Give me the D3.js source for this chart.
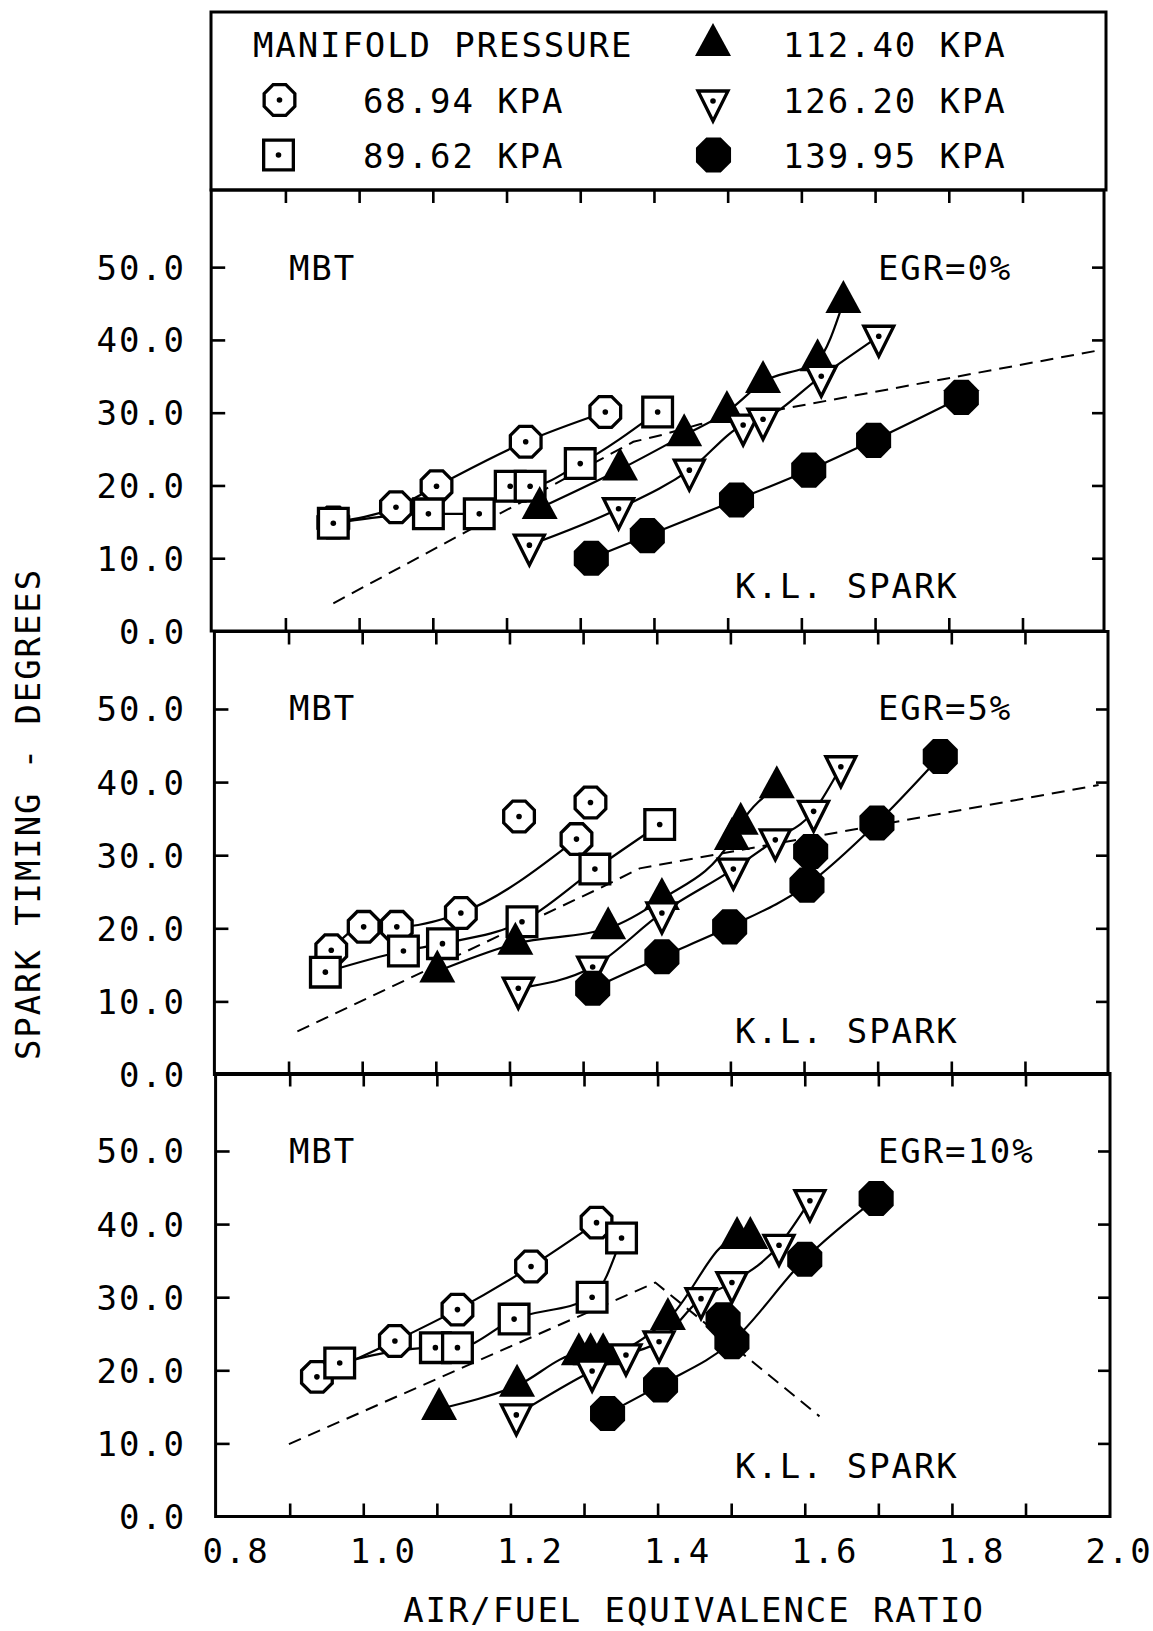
<!DOCTYPE html>
<html>
<head>
<meta charset="utf-8">
<script src="https://cdn.jsdelivr.net/npm/d3@7"></script>
<style>
  html, body { margin: 0; padding: 0; background: #fff; }
  svg { display: block; }
  text { font-family: "DejaVu Sans Mono", monospace; font-size: 34px; letter-spacing: 1.9px; fill: #000; }
</style>
</head>
<body>
<svg id="chart"></svg>
<script>
(() => {

  // ---- data ----
  const pressures = ['68.94 KPA', '89.62 KPA', '112.40 KPA', '126.20 KPA', '139.95 KPA'];
  const egrLabels = ['EGR=0%', 'EGR=5%', 'EGR=10%'];
  const xTickValues = [0.9, 1.0, 1.1, 1.2, 1.3, 1.4, 1.5, 1.6, 1.7, 1.8, 1.9];
  const xLabelValues = [0.8, 1.0, 1.2, 1.4, 1.6, 1.8, 2.0];
  const yTickValues = [10, 20, 30, 40, 50];
  const yLabelValues = [0, 10, 20, 30, 40, 50];

  // [phi, degrees, onCurve(0 = isolated point)]
  const egr0_p68  = [[0.965,14.9],[1.050,17.0],[1.105,19.9],[1.226,26.0],[1.334,30.1]];
  const egr0_p90  = [[0.965,14.8],[1.094,16.1],[1.163,16.1],[1.205,19.9],[1.232,19.9],[1.300,23.0],[1.405,30.1]];
  const egr0_p112 = [[1.245,16.9],[1.354,22.2],[1.441,26.9],[1.499,30.1],[1.548,34.2],[1.622,37.2],[1.657,45.2]];
  const egr0_p126 = [[1.231,11.8],[1.352,16.8],[1.448,22.1],[1.521,28.3],[1.548,29.1],[1.627,35.0],[1.705,40.5]];
  const egr0_p140 = [[1.315,10.0],[1.391,13.1],[1.512,18.0],[1.610,22.1],[1.698,26.2],[1.817,32.1]];
  const egr0_kl   = [[0.965,3.8],[1.372,26.0],[1.413,27.0],[1.462,28.4],[2.0,38.5]];

  const egr5_p68  = [[0.958,17.0],[1.002,20.2],[1.047,20.2],[1.134,22.1],[1.291,32.2],[1.213,35.3,0],[1.310,37.2,0]];
  const egr5_p90  = [[0.950,14.0],[1.056,16.9],[1.109,17.9],[1.217,20.9],[1.316,28.1],[1.404,34.2]];
  const egr5_p112 = [[1.102,14.1],[1.208,17.9],[1.334,20.0],[1.407,24.0],[1.502,32.2],[1.514,34.3],[1.563,39.3]];
  const egr5_p126 = [[1.212,11.8],[1.313,14.7],[1.407,22.1],[1.504,28.1],[1.561,32.1],[1.613,36.0],[1.650,42.1]];
  const egr5_p140 = [[1.313,11.8],[1.407,16.1],[1.499,20.2],[1.604,25.9],[1.609,30.5,0],[1.699,34.4],[1.785,43.5]];
  const egr5_kl   = [[0.912,5.9],[1.327,25.7],[1.377,28.2],[1.459,29.7],[2.0,39.6]];

  const egr10_p68  = [[0.937,19.1],[1.043,24.0],[1.128,28.3],[1.228,34.2],[1.317,40.2]];
  const egr10_p90  = [[0.968,21.0],[1.098,23.1],[1.128,23.1],[1.205,27.0],[1.311,30.0],[1.351,38.1]];
  const egr10_p112 = [[1.103,14.7],[1.209,17.9],[1.293,22.2],[1.309,22.2],[1.326,22.2],[1.414,27.0],[1.508,38.1],[1.526,38.1]];
  const egr10_p126 = [[1.208,13.9],[1.311,19.9],[1.357,22.1],[1.402,23.9],[1.459,29.8],[1.501,32.0],[1.565,37.1],[1.607,43.2]];
  const egr10_p140 = [[1.332,14.1],[1.404,18.0],[1.489,26.9,0],[1.501,23.9],[1.600,35.2],[1.697,43.5]];
  const egr10_kl   = [[0.899,9.9],[1.397,32.0],[1.620,13.7]];

  const panelSeries = [
    [egr0_p68, egr0_p90, egr0_p112, egr0_p126, egr0_p140],
    [egr5_p68, egr5_p90, egr5_p112, egr5_p126, egr5_p140],
    [egr10_p68, egr10_p90, egr10_p112, egr10_p126, egr10_p140]
  ];
  const panelKL = [egr0_kl, egr5_kl, egr10_kl];

  // ---- layout ----
  const svgWidth = 1153;
  const svgHeight = 1631;
  const panels = [
    { top: 190,    zero: 631,    x0: 211.7, x1: 1096.2, right: 1104, textY: 280,  klY: 598 },
    { top: 631.5,  zero: 1074.5, x0: 214.9, x1: 1098.6, right: 1108, textY: 720,  klY: 1043 },
    { top: 1073.5, zero: 1516.5, x0: 216.1, x1: 1099.1, right: 1110, textY: 1163, klY: 1478 }
  ];

  function octagon(R) {
    const pts = d3.range(8).map(k => {
      const a = (22.5 + 45 * k) * Math.PI / 180;
      return [(R * Math.cos(a)).toFixed(2), (R * Math.sin(a)).toFixed(2)];
    });
    return 'M' + pts.join('L') + 'Z';
  }
  function square(s) {
    const h = s / 2;
    return `M${-h},${-h}L${h},${-h}L${h},${h}L${-h},${h}Z`;
  }

  const markers = [
    { d: octagon(16.6), fill: '#fff', stroke: '#000', dot: true },
    { d: square(29.7), fill: '#fff', stroke: '#000', dot: true },
    { d: 'M0,-22L18,11L-18,11Z', fill: '#000', stroke: 'none', dot: false },
    { d: 'M-15,-10L15,-10L0,20Z', fill: '#fff', stroke: '#000', dot: true },
    { d: octagon(19), fill: '#000', stroke: 'none', dot: false }
  ];

  function drawMarker(sel, idx, cx, cy) {
    const m = markers[idx];
    const g = sel.append('g').attr('transform', `translate(${cx},${cy})`);
    g.append('path')
      .attr('d', m.d)
      .attr('fill', m.fill)
      .attr('stroke', m.stroke)
      .attr('stroke-width', 3.3)
      .attr('stroke-linejoin', 'miter');
    if (m.dot) g.append('circle').attr('r', 2.8).attr('fill', '#000');
  }

  const svg = d3.select('#chart')
    .attr('width', svgWidth)
    .attr('height', svgHeight);

  // ---- legend ----
  const legend = svg.append('g');
  legend.append('rect')
    .attr('x', 211).attr('y', 12)
    .attr('width', 895).attr('height', 178)
    .attr('fill', 'none').attr('stroke', '#000').attr('stroke-width', 3);
  legend.append('text').attr('x', 253).attr('y', 57).text('MANIFOLD PRESSURE');
  const legendSlots = [
    { sx: 279.5, sy: 100, tx: 363, ty: 113 },
    { sx: 278.5, sy: 155, tx: 363, ty: 168 },
    { sx: 713,   sy: 45,  tx: 783, ty: 57 },
    { sx: 713,   sy: 101, tx: 783, ty: 113 },
    { sx: 713.5, sy: 155, tx: 783, ty: 168 }
  ];
  pressures.forEach((name, i) => {
    const s = legendSlots[i];
    drawMarker(legend, i, s.sx, s.sy);
    legend.append('text').attr('x', s.tx).attr('y', s.ty).text(name);
  });

  // ---- panels ----
  panels.forEach((p, pi) => {
    const xScale = d3.scaleLinear().domain([0.8, 2.0]).range([p.x0, p.x1]);
    const yScale = d3.scaleLinear().domain([0, 60.6]).range([p.zero, p.top]);
    const left = p.x0 - 0.5;
    const g = svg.append('g');

    g.append('rect')
      .attr('x', left).attr('y', p.top)
      .attr('width', p.right - left).attr('height', p.zero - p.top)
      .attr('fill', 'none').attr('stroke', '#000').attr('stroke-width', 3);

    const tickAxes = [
      { axis: d3.axisRight(yScale).tickValues(yTickValues).tickSize(14), t: `translate(${left},0)` },
      { axis: d3.axisLeft(yScale).tickValues(yTickValues).tickSize(12), t: `translate(${p.right},0)` },
      { axis: d3.axisBottom(xScale).tickValues(xTickValues).tickSize(13), t: `translate(0,${p.top})` },
      { axis: d3.axisTop(xScale).tickValues(xTickValues).tickSize(13), t: `translate(0,${p.zero})` }
    ];
    tickAxes.forEach(a => {
      const ag = g.append('g').attr('transform', a.t).call(a.axis.tickFormat(''));
      ag.select('.domain').remove();
      ag.selectAll('line').attr('stroke', '#000').attr('stroke-width', 2.6);
    });

    // y labels
    g.selectAll('.ylab')
      .data(yLabelValues)
      .enter()
      .append('text')
      .attr('class', 'ylab')
      .attr('text-anchor', 'end')
      .attr('x', 186)
      .attr('y', d => yScale(d) + 12.5)
      .text(d => d.toFixed(1));

    // text labels
    g.append('text').attr('x', 289).attr('y', p.textY).text('MBT');
    g.append('text').attr('x', 878).attr('y', p.textY).text(egrLabels[pi]);
    g.append('text').attr('x', 735).attr('y', p.klY).text('K.L. SPARK');

    // K.L. spark dashed
    const lin = d3.line().x(d => xScale(d[0])).y(d => yScale(d[1]));
    g.append('path')
      .datum(panelKL[pi])
      .attr('fill', 'none')
      .attr('stroke', '#000')
      .attr('stroke-width', 2)
      .attr('stroke-dasharray', '13,8')
      .attr('d', lin);

    // fitted curves
    const curve = d3.line()
      .x(d => xScale(d[0]))
      .y(d => yScale(d[1]))
      .curve(d3.curveMonotoneX);
    panelSeries[pi].forEach(series => {
      const pts = series.filter(d => d[2] !== 0).slice().sort((a, b) => a[0] - b[0]);
      g.append('path')
        .datum(pts)
        .attr('fill', 'none')
        .attr('stroke', '#000')
        .attr('stroke-width', 2.2)
        .attr('d', curve);
    });

    // markers
    panelSeries[pi].forEach((series, si) => {
      series.forEach(d => drawMarker(g, si, xScale(d[0]), yScale(d[1])));
    });

    // x labels only on the last panel
    if (pi === panels.length - 1) {
      g.selectAll('.xlab')
        .data(xLabelValues)
        .enter()
        .append('text')
        .attr('class', 'xlab')
        .attr('text-anchor', 'middle')
        .attr('x', d => xScale(d) + 20)
        .attr('y', 1563)
        .text(d => d.toFixed(1));
    }
  });

  // ---- axis titles ----
  svg.append('text')
    .attr('text-anchor', 'middle')
    .attr('x', 694).attr('y', 1622)
    .text('AIR/FUEL EQUIVALENCE RATIO');
  svg.append('text')
    .attr('text-anchor', 'middle')
    .attr('transform', 'translate(39.5,814) rotate(-90)')
    .text('SPARK TIMING - DEGREES');

})();
</script>
</body>
</html>
